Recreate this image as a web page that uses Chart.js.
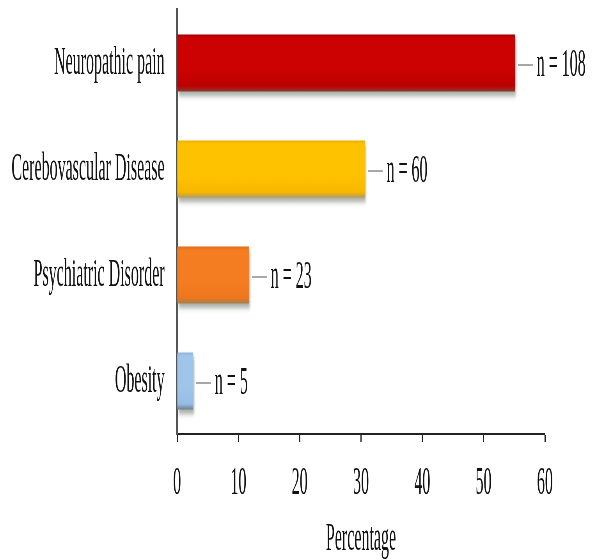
<!DOCTYPE html>
<html>
<head>
<meta charset="utf-8">
<script src="https://cdn.jsdelivr.net/npm/chart.js@4/dist/chart.umd.min.js"></script>
<style>
  html, body { margin: 0; padding: 0; background: #ffffff; overflow: hidden; }
  #c { display: block; width: 596px !important; height: 560px !important; }
</style>
</head>
<body>
<!-- The drawing surface is wider than its on-screen box, giving the tall, narrow lettering of the figure -->
<canvas id="c" width="1528" height="560"></canvas>
<script>
const categories = ['Neuropathic pain', 'Cerebovascular Disease', 'Psychiatric Disorder', 'Obesity'];
const percentages = [55.1, 30.6, 11.7, 2.6];
const counts = [108, 60, 23, 5];
const xTicks = [0, 10, 20, 30, 40, 50, 60];

const FONT = '"Liberation Serif", "Times New Roman", serif';
const TEXT_SIZE = 41;
const TEXT_COLOR = '#111111';
const BAR_FRACTION = 0.54;

// base colour plus lighter / darker edge tones for each bar
const palette = [
  { top: '#A80000', body: '#CC0202', low: '#BC0000', edge: '#8C3A30' },
  { top: '#EFB000', body: '#FFC200', low: '#F7B900', edge: '#B99A55' },
  { top: '#E46C18', body: '#F47D22', low: '#EE761C', edge: '#A5804F' },
  { top: '#8FB6DC', body: '#A0C5E9', low: '#96BDE3', edge: '#6E7F90' }
];

function barFill(context) {
  const chart = context.chart;
  const c = palette[context.dataIndex];
  const yScale = chart.scales.y;
  if (!chart.chartArea || !yScale) return c.body;
  const center = yScale.getPixelForValue(context.dataIndex);
  const band = (chart.chartArea.bottom - chart.chartArea.top) / categories.length;
  const half = band * BAR_FRACTION / 2;
  const g = chart.ctx.createLinearGradient(0, center - half, 0, center + half);
  g.addColorStop(0, c.top);
  g.addColorStop(0.07, c.body);
  g.addColorStop(0.6, c.body);
  g.addColorStop(0.9, c.low);
  g.addColorStop(1, c.edge);
  return g;
}

// soft drop shadow under the bars
const barShadow = {
  id: 'barShadow',
  beforeDatasetDraw(chart) {
    const ctx = chart.ctx;
    ctx.save();
    ctx.shadowColor = 'rgba(60, 75, 60, 0.45)';
    ctx.shadowBlur = 5;
    ctx.shadowOffsetX = 3;
    ctx.shadowOffsetY = 4;
  },
  afterDatasetDraw(chart) {
    chart.ctx.restore();
  }
};

// leader line and "n = …" label at the end of each bar
const countLabels = {
  id: 'countLabels',
  afterDatasetsDraw(chart) {
    const ctx = chart.ctx;
    const meta = chart.getDatasetMeta(0);
    ctx.save();
    meta.data.forEach((bar, i) => {
      const x = bar.x;
      const y = bar.y + 2;
      ctx.strokeStyle = '#8a8a8a';
      ctx.lineWidth = 1.5;
      ctx.beginPath();
      ctx.moveTo(x + 8, y);
      ctx.lineTo(x + 46, y);
      ctx.stroke();
      ctx.fillStyle = TEXT_COLOR;
      ctx.font = TEXT_SIZE + 'px ' + FONT;
      ctx.textAlign = 'left';
      ctx.textBaseline = 'middle';
      ctx.fillText('n = ' + counts[i], x + 56, y);
    });
    ctx.restore();
  }
};

new Chart(document.getElementById('c'), {
  type: 'bar',
  data: {
    labels: categories,
    datasets: [{
      data: percentages,
      backgroundColor: barFill,
      borderWidth: 0,
      barPercentage: BAR_FRACTION,
      categoryPercentage: 1.0
    }]
  },
  options: {
    indexAxis: 'y',
    responsive: false,
    devicePixelRatio: 1,
    animation: false,
    layout: { padding: { top: 10, right: 131, left: 0, bottom: 0 } },
    plugins: {
      legend: { display: false },
      tooltip: { enabled: false }
    },
    scales: {
      x: {
        type: 'linear',
        min: 0,
        max: 60,
        afterBuildTicks(scale) { scale.ticks = xTicks.map(v => ({ value: v })); },
        afterFit(scale) { scale.height = 126; },
        grid: {
          drawOnChartArea: false,
          drawTicks: true,
          tickLength: 8,
          tickWidth: 3,
          tickColor: '#222222',
          color: '#222222'
        },
        border: { display: true, color: '#222222', width: 2 },
        ticks: {
          padding: 21,
          color: TEXT_COLOR,
          font: { family: FONT, size: TEXT_SIZE, lineHeight: 1 },
          maxRotation: 0
        },
        title: {
          display: true,
          text: 'Percentage',
          color: TEXT_COLOR,
          font: { family: FONT, size: TEXT_SIZE, lineHeight: 1 },
          padding: { top: 0, bottom: 0 }
        }
      },
      y: {
        afterFit(scale) { scale.width = 454; },
        grid: { display: false, drawTicks: true, tickLength: 32 },
        border: { display: true, color: '#555555', width: 4 },
        ticks: {
          padding: 0,
          color: TEXT_COLOR,
          font: { family: FONT, size: TEXT_SIZE, lineHeight: 0.3 }
        }
      }
    }
  },
  plugins: [barShadow, countLabels]
});
</script>
</body>
</html>
